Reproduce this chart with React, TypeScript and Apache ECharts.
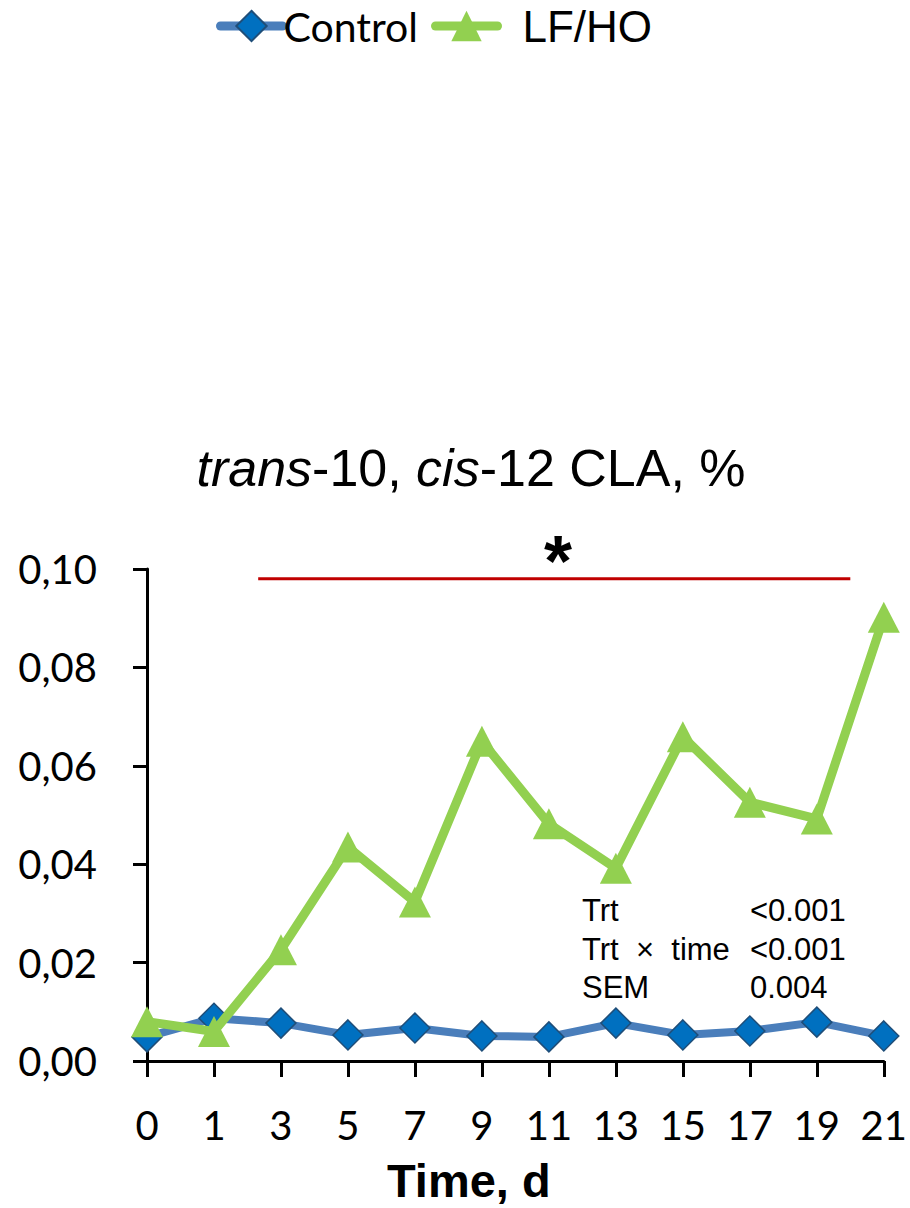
import React, { useEffect, useRef } from "react";
import * as echarts from "echarts";

// Sampling days
const days = ["0", "1", "3", "5", "7", "9", "11", "13", "15", "17", "19", "21"];

// trans-10, cis-12 CLA (% of fatty acids)
const controlValues = [0.0049, 0.0087, 0.0077, 0.0053, 0.0067, 0.0051, 0.0049, 0.0077, 0.0053, 0.0061, 0.0079, 0.0051];
const lfhoValues = [0.008, 0.006, 0.0226, 0.0435, 0.0323, 0.065, 0.0482, 0.0392, 0.0659, 0.0526, 0.0492, 0.0902];

// y-axis scale
const yMin = 0;
const yMax = 0.1;
const yStep = 0.02;

// significance bar: spans day positions (category index) at a fixed level
const sigStartIndex = 1.66;
const sigEndIndex = 10.5;
const sigLevel = 0.098;

// statistics box
const statLabels = ["Trt", "Trt\u00A0\u00A0\u00D7\u00A0\u00A0time", "SEM"];
const statValues = ["<0.001", "<0.001", "0.004"];

const ARIAL = "'Liberation Sans', Arial, sans-serif";
const CALIBRI = "Lato, 'Noto Sans', sans-serif";

export default function App() {
  const ref = useRef<HTMLDivElement>(null);

  useEffect(() => {
    if (!ref.current) return;
    const chart = echarts.init(ref.current, undefined, { renderer: "svg" });

    const statTexts: any[] = [];
    statLabels.forEach((s, i) => {
      statTexts.push({
        type: "text",
        left: 582,
        top: 895 + i * 38.5,
        style: { text: s, font: `31px ${ARIAL}`, fill: "#000" },
      });
      statTexts.push({
        type: "text",
        left: 750,
        top: 895 + i * 38.5,
        style: { text: statValues[i], font: `31px ${ARIAL}`, fill: "#000" },
      });
    });

    chart.setOption({
      animation: false,
      backgroundColor: "#fff",
      legend: {
        top: 4,
        left: 216,
        padding: 0,
        itemWidth: 62,
        itemHeight: 38,
        itemGap: 13,
        lineStyle: { width: 9, cap: "round" },
        data: [
          {
            name: "Control",
            textStyle: { fontFamily: CALIBRI, fontSize: 41, lineHeight: 44, color: "#000", padding: [0, 0, 0, -4] },
          },
          {
            name: "LF/HO",
            textStyle: { fontFamily: ARIAL, fontSize: 44, lineHeight: 44, color: "#000", padding: [0, 0, 0, 20] },
          },
        ],
      },
      grid: { left: 147, right: 26, top: 569, bottom: 147 },
      xAxis: [
        {
          type: "category",
          data: days,
          boundaryGap: false,
          axisLine: { lineStyle: { color: "#000", width: 3 } },
          axisTick: { show: true, length: 16, lineStyle: { color: "#000", width: 3 }, alignWithLabel: true },
          axisLabel: { fontFamily: CALIBRI, fontSize: 40, color: "#000", margin: 44 },
        },
        { type: "value", min: 0, max: days.length - 1, show: false },
      ],
      yAxis: {
        type: "value",
        min: yMin,
        max: yMax,
        interval: yStep,
        splitLine: { show: false },
        axisLine: { show: true, lineStyle: { color: "#000", width: 3 } },
        axisTick: { show: true, length: 14, lineStyle: { color: "#000", width: 3 } },
        axisLabel: {
          fontFamily: CALIBRI,
          fontSize: 40,
          color: "#000",
          margin: 50,
          formatter: (v: number) => v.toFixed(2).replace(".", ","),
        },
      },
      series: [
        {
          name: "Control",
          type: "line",
          data: controlValues,
          symbol: "diamond",
          symbolSize: 30,
          lineStyle: { color: "#4A7EBB", width: 8 },
          itemStyle: { color: "#0070C0", borderColor: "#1F4E79", borderWidth: 1.5 },
          z: 2,
        },
        {
          name: "LF/HO",
          type: "line",
          data: lfhoValues,
          symbol: "triangle",
          symbolSize: [32, 31],
          lineStyle: { color: "#92D050", width: 9 },
          itemStyle: { color: "#92D050" },
          z: 3,
        },
        {
          name: "sig",
          type: "line",
          xAxisIndex: 1,
          data: [
            [sigStartIndex, sigLevel],
            [sigEndIndex, sigLevel],
          ],
          symbol: "none",
          silent: true,
          lineStyle: { color: "#C00000", width: 3 },
          z: 1,
        },
      ],
      graphic: [
        {
          type: "text",
          x: 471,
          y: 468,
          style: {
            text: "{i|trans}-10, {i|cis}-12 CLA, %",
            font: `52px ${ARIAL}`,
            fill: "#000",
            align: "center",
            verticalAlign: "middle",
            rich: {
              i: { fontStyle: "italic", fontFamily: ARIAL, fontSize: 52, fill: "#000" },
            },
          },
        },
        {
          type: "text",
          x: 558,
          y: 525,
          style: { text: "*", font: `bold 72px ${ARIAL}`, fill: "#000", align: "center", verticalAlign: "top" },
        },
        {
          type: "text",
          left: 387,
          top: 1157,
          style: { text: "Time, d", font: `bold 47px ${ARIAL}`, fill: "#000" },
        },
        ...statTexts,
      ],
    });

    return () => chart.dispose();
  }, []);

  return <div ref={ref} style={{ position: "absolute", left: 0, top: 0, width: 910, height: 1208 }} />;
}
